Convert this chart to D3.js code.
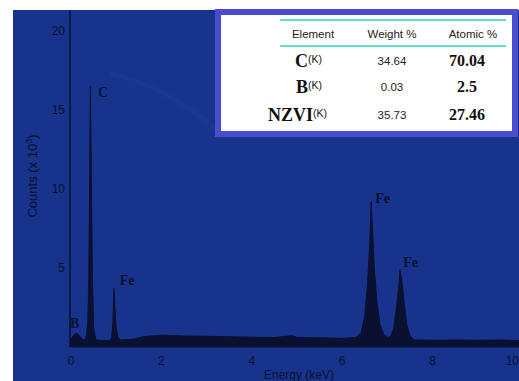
<!DOCTYPE html>
<html>
<head>
<meta charset="utf-8">
<script src="https://cdn.jsdelivr.net/npm/d3@7"></script>
<style>
body { margin: 0; background: #fff; }
svg { display: block; }
</style>
</head>
<body>
<svg width="519" height="381"></svg>
<script>
// spectrum (energy keV, counts x10^3)
var energy = [0, 0.05, 0.1, 0.16, 0.22, 0.28, 0.33, 0.37, 0.39, 0.41, 0.42, 0.43, 0.45, 0.47, 0.5, 0.55,
    0.7, 0.85, 0.9, 0.93, 0.95, 0.97, 1.0, 1.04, 1.1, 1.4, 1.6, 2.0, 2.5, 3.0, 3.5, 4.0, 4.5, 4.9, 5.0,
    5.5, 6.0, 6.3, 6.42, 6.5, 6.56, 6.61, 6.64, 6.67, 6.71, 6.77, 6.84, 6.92, 7.0, 7.08, 7.14, 7.2,
    7.25, 7.28, 7.32, 7.37, 7.43, 7.5, 7.6, 8.0, 8.5, 9.0, 9.5, 10];
var counts = [0.5, 0.7, 0.85, 0.8, 0.6, 0.45, 0.5, 1.5, 4, 9, 14, 16.5, 11, 5, 1.2, 0.45,
    0.4, 0.4, 0.6, 1.8, 3.7, 2.6, 1.2, 0.6, 0.45, 0.5, 0.65, 0.75, 0.7, 0.68, 0.65, 0.62, 0.6, 0.72, 0.6,
    0.58, 0.55, 0.6, 0.9, 2, 4, 6.5, 9.2, 7.5, 5, 2.8, 1.4, 0.8, 0.6, 0.7, 1.2, 2.5,
    3.8, 4.9, 4.2, 2.8, 1.4, 0.7, 0.45, 0.42, 0.45, 0.42, 0.45, 0.4];

var peakNames = ['B', 'C', 'Fe', 'Fe', 'Fe'];
var peakEnergy = [-0.02, 0.6, 1.08, 6.73, 7.35];
var peakCounts = [1.2, 15.8, 3.95, 9.1, 5.05];

var xTicks = [0, 2, 4, 6, 8, 10];
var yTicks = [5, 10, 15, 20];

var tableHead = ['Element', 'Weight %', 'Atomic %'];
var elements = ['C', 'B', 'NZVI'];
var weightPct = ['34.64', '0.03', '35.73'];
var atomicPct = ['70.04', '2.5', '27.46'];

var svg = d3.select('svg');
var ink = '#0a1030';

svg.append('rect')
    .attr('x', 13).attr('y', 10)
    .attr('width', 506).attr('height', 371)
    .attr('fill', '#17338c');

var x = d3.scaleLinear().domain([0, 10]).range([71, 523]);
var y = d3.scaleLinear().domain([0, 20]).range([347, 31]);

// faint continuum glow
svg.append('path')
    .attr('d', 'M110,74 Q160,82 225,136')
    .attr('fill', 'none')
    .attr('stroke', '#2c4aa4')
    .attr('stroke-width', 5)
    .attr('opacity', 0.18);

var pts = energy.map(function(e, i) { return [e, counts[i]]; });

var area = d3.area()
    .x(function(d) { return x(d[0]); })
    .y0(y(0))
    .y1(function(d) { return y(d[1]); });

svg.append('path')
    .datum(pts)
    .attr('d', area)
    .attr('fill', ink)
    .attr('stroke', ink)
    .attr('stroke-width', 1);

// baseline band
svg.append('rect')
    .attr('x', 70).attr('y', 341)
    .attr('width', 449).attr('height', 6)
    .attr('fill', ink);

// left axis line
svg.append('line')
    .attr('x1', 70).attr('x2', 70)
    .attr('y1', 10).attr('y2', 347)
    .attr('stroke', ink).attr('stroke-width', 1.5);

svg.selectAll('.xt')
    .data(xTicks)
    .enter().append('text')
    .attr('class', 'xt')
    .attr('x', function(d) { return d === 10 ? 519 : x(d); })
    .attr('y', 365)
    .attr('text-anchor', function(d) { return d === 10 ? 'end' : 'middle'; })
    .attr('font-family', 'Liberation Sans, Arial, sans-serif')
    .attr('font-size', 12)
    .attr('fill', ink)
    .text(function(d) { return d; });

svg.selectAll('.yt')
    .data(yTicks)
    .enter().append('text')
    .attr('class', 'yt')
    .attr('x', 65)
    .attr('y', function(d) { return y(d) + 4; })
    .attr('text-anchor', 'end')
    .attr('font-family', 'Liberation Sans, Arial, sans-serif')
    .attr('font-size', 12)
    .attr('fill', ink)
    .text(function(d) { return d; });

svg.append('text')
    .attr('transform', 'translate(37,176) rotate(-90)')
    .attr('text-anchor', 'middle')
    .attr('font-family', 'Liberation Sans, Arial, sans-serif')
    .attr('font-size', 13)
    .attr('fill', ink)
    .html('Counts (x 10<tspan dy="-5" font-size="9">3</tspan><tspan dy="5">)</tspan>');

svg.append('text')
    .attr('x', 299).attr('y', 379)
    .attr('text-anchor', 'middle')
    .attr('font-family', 'Liberation Sans, Arial, sans-serif')
    .attr('font-size', 12)
    .attr('fill', ink)
    .text('Energy (keV)');

svg.selectAll('.pk')
    .data(peakNames)
    .enter().append('text')
    .attr('class', 'pk')
    .attr('x', function(d, i) { return x(peakEnergy[i]); })
    .attr('y', function(d, i) { return y(peakCounts[i]); })
    .attr('font-family', 'Liberation Serif, Times New Roman, serif')
    .attr('font-weight', 'bold')
    .attr('font-size', 14)
    .attr('fill', ink)
    .text(function(d) { return d; });

// inset table
var tb = svg.append('g');
tb.append('rect')
    .attr('x', 218).attr('y', 12)
    .attr('width', 297).attr('height', 122)
    .attr('fill', '#fff')
    .attr('stroke', '#4a4ccf')
    .attr('stroke-width', 6);

[20, 46].forEach(function(ly) {
    tb.append('line')
        .attr('x1', 280).attr('x2', 506)
        .attr('y1', ly).attr('y2', ly)
        .attr('stroke', '#5fe0cc').attr('stroke-width', 2);
});

var colX = [313, 392, 473];
tb.selectAll('.th')
    .data(tableHead)
    .enter().append('text')
    .attr('class', 'th')
    .attr('x', function(d, i) { return colX[i]; })
    .attr('y', 38)
    .attr('text-anchor', 'middle')
    .attr('font-family', 'Liberation Sans, Arial, sans-serif')
    .attr('font-size', 11.5)
    .attr('fill', '#222')
    .text(function(d) { return d; });

var rowY = [67, 93, 121];
var elRight = [322, 322, 327];
elements.forEach(function(el, i) {
    var t = tb.append('text')
        .attr('x', elRight[i])
        .attr('y', rowY[i])
        .attr('text-anchor', 'end')
        .attr('fill', '#111');
    t.append('tspan')
        .attr('font-family', 'Liberation Serif, Times New Roman, serif')
        .attr('font-weight', 'bold')
        .attr('font-size', 18)
        .text(el);
    t.append('tspan')
        .attr('font-family', 'Liberation Sans, Arial, sans-serif')
        .attr('font-size', 10.5)
        .attr('dy', -4)
        .text('(K)');
});

tb.selectAll('.wt')
    .data(weightPct)
    .enter().append('text')
    .attr('class', 'wt')
    .attr('x', 392)
    .attr('y', function(d, i) { return rowY[i] - 2; })
    .attr('text-anchor', 'middle')
    .attr('font-family', 'Liberation Sans, Arial, sans-serif')
    .attr('font-size', 11.5)
    .attr('fill', '#222')
    .text(function(d) { return d; });

tb.selectAll('.at')
    .data(atomicPct)
    .enter().append('text')
    .attr('class', 'at')
    .attr('x', 467)
    .attr('y', function(d, i) { return rowY[i] - 1; })
    .attr('text-anchor', 'middle')
    .attr('font-family', 'Liberation Serif, Times New Roman, serif')
    .attr('font-weight', 'bold')
    .attr('font-size', 16)
    .attr('fill', '#111')
    .text(function(d) { return d; });
</script>
</body>
</html>
